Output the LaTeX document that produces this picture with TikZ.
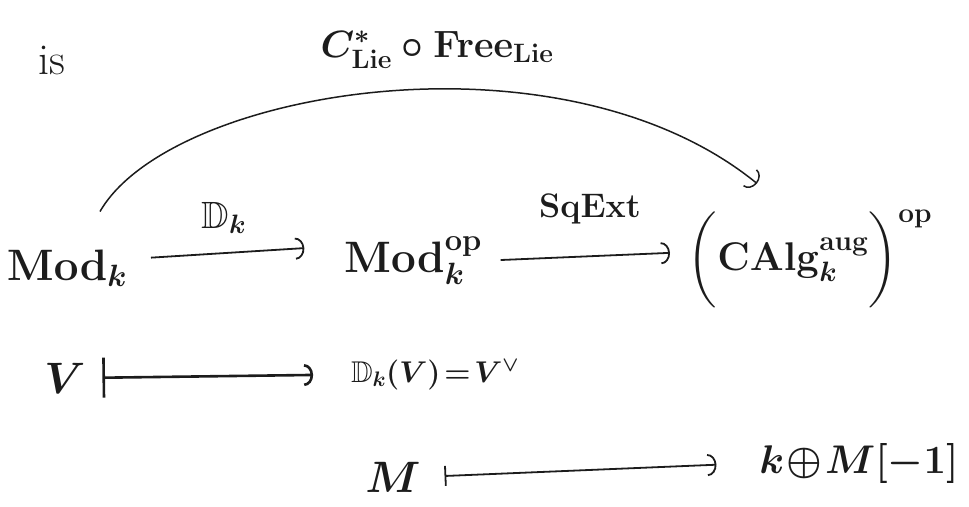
\RequirePackage{fix-cm}
\documentclass[tikz,border=0pt]{standalone}
\usepackage{amsmath}
\usepackage{amssymb}
\usetikzlibrary{arrows.meta}
\definecolor{ink}{HTML}{1C1C1C}

\begin{document}
\begin{tikzpicture}[
  x=1pt, y=-1pt,
  ink, line width=1.8pt,
  big/.style={anchor=base, inner sep=1pt, font=\fontsize{44}{52}\selectfont\boldmath},
  mid/.style={anchor=base, inner sep=1pt, font=\fontsize{38}{46}\selectfont\boldmath},
  small/.style={anchor=base, inner sep=1pt, font=\fontsize{30}{36}\selectfont\boldmath},
  arr/.style={-{Arc Barb[length=9pt, width=22pt]}},
  mapsto/.style={{Bar[width=#1]}-{Arc Barb[length=9pt, width=22pt]}},
]
  \useasboundingbox (0,0) rectangle (969,506);

  % ── Top: the long arrow and its label ──────────────────────────────────────
  \node[big] (is) at (52,74) {is};
  \node[mid] (freelbl) at (437,57) {$C^{*}_{\mathrm{Lie}}\circ\mathrm{Free}_{\mathrm{Lie}}$};

  % ── Row 1: categories ───────────────────────────────────────────────────────
  \node[big] (modk)  at (67,280)  {$\mathrm{Mod}_k$};
  \node[big] (modop) at (413,272) {$\mathrm{Mod}_k^{\mathrm{op}}$};
  \node[big, font=\fontsize{40}{48}\selectfont\boldmath] (calg) at (810,270)
    {$\bigg(\mathrm{CAlg}^{\mathrm{aug}}_k\bigg)^{\mathrm{op}}$};
  \node[mid] (dlbl)  at (224,228) {$\mathbb{D}_k$};
  \node[mid, font=\fontsize{34}{40}\selectfont\boldmath] (sqlbl) at (590,217) {$\mathrm{SqExt}$};

  % ── Rows 2 and 3: elements ──────────────────────────────────────────────────
  \node[big]   (v)   at (65,393)  {$V$};
  \node[small] (dkv) at (435,382) {$\mathbb{D}_k(V)\!=\!V^{\vee}$};
  \node[big]   (m)   at (393,492) {$M$};
  \node[big, font=\fontsize{40}{48}\selectfont\boldmath] (km) at (859,473) {$k\!\oplus\! M[-1]$};

  % ── Arrows ──────────────────────────────────────────────────────────────────
  \draw[arr, shorten <=22pt, shorten >=38pt] ([yshift=9pt]modk.east) -- ([yshift=15pt]modop.west);
  \draw[arr, shorten <=17pt, shorten >=16pt] (modop.east) -- ([yshift=7pt]calg.west);
  \draw[arr, line width=1.5pt] ([shift={(33,-36)}]modk.north)
    .. controls +(70,-122) and +(-197,-160) .. ([shift={(-53,-25)}]calg.north);
  \draw[mapsto=40pt, line width=2.6pt, shorten <=15pt, shorten >=36pt] (v.east) -- (dkv.west);
  \draw[mapsto=20pt, shorten <=22pt, shorten >=41pt] (m.east) -- (km.west);
\end{tikzpicture}
\end{document}
